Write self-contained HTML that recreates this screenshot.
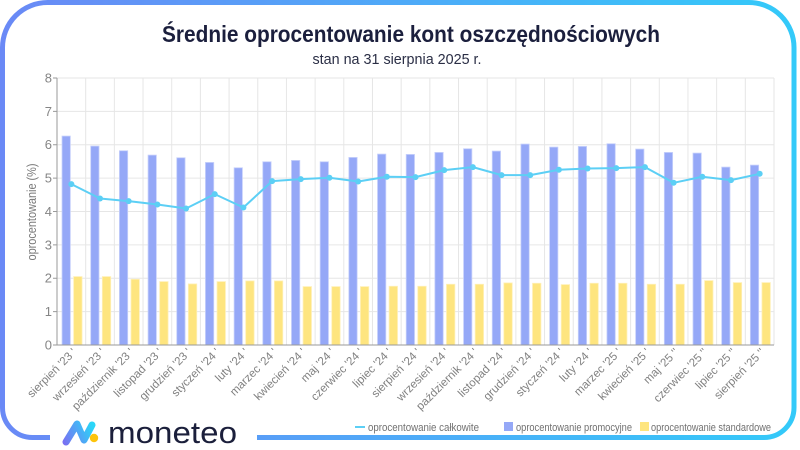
<!DOCTYPE html>
<html><head><meta charset="utf-8"><style>
html,body{margin:0;padding:0;background:#fff;width:800px;height:450px;overflow:hidden}
svg{display:block}
text{font-family:"Liberation Sans",sans-serif}
</style></head><body>
<svg width="800" height="450" viewBox="0 0 800 450" xmlns="http://www.w3.org/2000/svg">
<defs>
<linearGradient id="fr" gradientUnits="userSpaceOnUse" x1="0" y1="0" x2="800" y2="0">
<stop offset="0" stop-color="#6a89f6"/><stop offset="1" stop-color="#33caf9"/>
</linearGradient>
<linearGradient id="lg" gradientUnits="userSpaceOnUse" x1="62" y1="440" x2="92" y2="425">
<stop offset="0" stop-color="#7a6ff2"/><stop offset="1" stop-color="#2ad6f8"/>
</linearGradient>
</defs>
<rect width="800" height="450" fill="#fff"/>
<!-- frame -->
<path d="M47.5 2.5 H749 A45 45 0 0 1 794 47.5 V407.5 A30 30 0 0 1 764 437.5 H32.5 A30 30 0 0 1 2.5 407.5 V47.5 A45 45 0 0 1 47.5 2.5 Z" fill="none" stroke="url(#fr)" stroke-width="5"/>
<rect x="50" y="428" width="207" height="20" fill="#fff"/>

<!-- title -->
<text x="411" y="42" text-anchor="middle" font-size="23" font-weight="bold" fill="#1b1f3d" textLength="498" lengthAdjust="spacingAndGlyphs">Średnie oprocentowanie kont oszczędnościowych</text>
<text x="397" y="64" text-anchor="middle" font-size="15" fill="#2a2e45" textLength="169" lengthAdjust="spacingAndGlyphs">stan na 31 sierpnia 2025 r.</text>

<!-- grid -->
<g stroke="#e6e6e6" stroke-width="1" fill="none">
<path d="M57 311.625H774M57 278.25H774M57 244.875H774M57 211.5H774M57 178.125H774M57 144.75H774M57 111.375H774M57 78H774"/>
<path d="M85.68 78V345M114.36 78V345M143.04 78V345M171.72 78V345M200.4 78V345M229.08 78V345M257.76 78V345M286.44 78V345M315.12 78V345M343.8 78V345M372.48 78V345M401.16 78V345M429.84 78V345M458.52 78V345M487.2 78V345M515.88 78V345M544.56 78V345M573.24 78V345M601.92 78V345M630.6 78V345M659.28 78V345M687.96 78V345M716.64 78V345M745.32 78V345M774 78V345"/>
</g>

<!-- blue bars -->
<g fill="#95a8f7" stroke="#c6d0fb" stroke-width="0.8">
<rect x="62.04" y="136.07" width="8.3" height="208.93"/>
<rect x="90.72" y="146.08" width="8.3" height="198.92"/>
<rect x="119.40" y="150.76" width="8.3" height="194.24"/>
<rect x="148.08" y="155.10" width="8.3" height="189.90"/>
<rect x="176.76" y="157.77" width="8.3" height="187.23"/>
<rect x="205.44" y="162.44" width="8.3" height="182.56"/>
<rect x="234.12" y="167.78" width="8.3" height="177.22"/>
<rect x="262.80" y="161.77" width="8.3" height="183.23"/>
<rect x="291.48" y="160.44" width="8.3" height="184.56"/>
<rect x="320.16" y="161.77" width="8.3" height="183.23"/>
<rect x="348.84" y="157.43" width="8.3" height="187.57"/>
<rect x="377.52" y="154.09" width="8.3" height="190.91"/>
<rect x="406.20" y="154.43" width="8.3" height="190.57"/>
<rect x="434.88" y="152.43" width="8.3" height="192.57"/>
<rect x="463.56" y="148.75" width="8.3" height="196.25"/>
<rect x="492.24" y="151.09" width="8.3" height="193.91"/>
<rect x="520.92" y="144.08" width="8.3" height="200.92"/>
<rect x="549.60" y="147.09" width="8.3" height="197.91"/>
<rect x="578.28" y="146.42" width="8.3" height="198.58"/>
<rect x="606.96" y="143.75" width="8.3" height="201.25"/>
<rect x="635.64" y="149.09" width="8.3" height="195.91"/>
<rect x="664.32" y="152.43" width="8.3" height="192.57"/>
<rect x="693.00" y="153.09" width="8.3" height="191.91"/>
<rect x="721.68" y="167.11" width="8.3" height="177.89"/>
<rect x="750.36" y="165.11" width="8.3" height="179.89"/>
</g>

<!-- yellow bars -->
<g fill="#fee57f" stroke="#fff0b8" stroke-width="0.8">
<rect x="73.64" y="276.58" width="8.4" height="68.42"/>
<rect x="102.32" y="276.58" width="8.4" height="68.42"/>
<rect x="131.00" y="279.25" width="8.4" height="65.75"/>
<rect x="159.68" y="281.59" width="8.4" height="63.41"/>
<rect x="188.36" y="283.92" width="8.4" height="61.08"/>
<rect x="217.04" y="281.59" width="8.4" height="63.41"/>
<rect x="245.72" y="280.92" width="8.4" height="64.08"/>
<rect x="274.40" y="280.92" width="8.4" height="64.08"/>
<rect x="303.08" y="286.59" width="8.4" height="58.41"/>
<rect x="331.76" y="286.59" width="8.4" height="58.41"/>
<rect x="360.44" y="286.59" width="8.4" height="58.41"/>
<rect x="389.12" y="286.26" width="8.4" height="58.74"/>
<rect x="417.80" y="286.26" width="8.4" height="58.74"/>
<rect x="446.48" y="284.26" width="8.4" height="60.74"/>
<rect x="475.16" y="284.26" width="8.4" height="60.74"/>
<rect x="503.84" y="282.92" width="8.4" height="62.08"/>
<rect x="532.52" y="283.26" width="8.4" height="61.74"/>
<rect x="561.20" y="284.59" width="8.4" height="60.41"/>
<rect x="589.88" y="283.26" width="8.4" height="61.74"/>
<rect x="618.56" y="283.26" width="8.4" height="61.74"/>
<rect x="647.24" y="284.26" width="8.4" height="60.74"/>
<rect x="675.92" y="284.26" width="8.4" height="60.74"/>
<rect x="704.60" y="280.59" width="8.4" height="64.41"/>
<rect x="733.28" y="282.59" width="8.4" height="62.41"/>
<rect x="761.96" y="282.59" width="8.4" height="62.41"/>
</g>

<!-- axes -->
<g stroke="#9a9a9a" stroke-width="1" fill="none">
<path d="M57 78V345H774"/>
<path d="M53 78H57M53 111.375H57M53 144.75H57M53 178.125H57M53 211.5H57M53 244.875H57M53 278.25H57M53 311.625H57M53 345H57"/>
</g>
<g font-size="13" fill="#858585" text-anchor="end">
<text x="52" y="349.5">0</text>
<text x="52" y="316">1</text>
<text x="52" y="282.7">2</text>
<text x="52" y="249.3">3</text>
<text x="52" y="216">4</text>
<text x="52" y="182.6">5</text>
<text x="52" y="149.2">6</text>
<text x="52" y="115.9">7</text>
<text x="52" y="82.5">8</text>
</g>
<text transform="translate(36 212) rotate(-90)" text-anchor="middle" font-size="12.5" fill="#7a7a7a" textLength="97" lengthAdjust="spacingAndGlyphs">oprocentowanie (%)</text>

<!-- line -->
<polyline fill="none" stroke="#5ccff5" stroke-width="2" stroke-linejoin="round" points="71.34,184.13 100.02,198.48 128.70,201.15 157.38,204.49 186.06,208.50 214.74,194.14 243.42,207.49 272.10,181.13 300.78,179.13 329.46,177.79 358.14,181.46 386.82,176.79 415.50,177.12 444.18,170.11 472.86,167.11 501.54,175.12 530.22,175.12 558.90,169.78 587.58,168.45 616.26,168.11 644.94,167.11 673.62,182.80 702.30,176.79 730.98,180.13 759.66,173.79"/>
<g fill="#5ccff5">
<circle cx="71.34" cy="184.13" r="3"/><circle cx="100.02" cy="198.48" r="3"/><circle cx="128.70" cy="201.15" r="3"/><circle cx="157.38" cy="204.49" r="3"/><circle cx="186.06" cy="208.50" r="3"/><circle cx="214.74" cy="194.14" r="3"/><circle cx="243.42" cy="207.49" r="3"/><circle cx="272.10" cy="181.13" r="3"/><circle cx="300.78" cy="179.13" r="3"/><circle cx="329.46" cy="177.79" r="3"/><circle cx="358.14" cy="181.46" r="3"/><circle cx="386.82" cy="176.79" r="3"/><circle cx="415.50" cy="177.12" r="3"/><circle cx="444.18" cy="170.11" r="3"/><circle cx="472.86" cy="167.11" r="3"/><circle cx="501.54" cy="175.12" r="3"/><circle cx="530.22" cy="175.12" r="3"/><circle cx="558.90" cy="169.78" r="3"/><circle cx="587.58" cy="168.45" r="3"/><circle cx="616.26" cy="168.11" r="3"/><circle cx="644.94" cy="167.11" r="3"/><circle cx="673.62" cy="182.80" r="3"/><circle cx="702.30" cy="176.79" r="3"/><circle cx="730.98" cy="180.13" r="3"/><circle cx="759.66" cy="173.79" r="3"/>
</g>

<!-- x labels -->
<g font-size="11.5" fill="#808080" text-anchor="end">
<text transform="translate(77 353) rotate(-45)">sierpień '23 '</text>
<text transform="translate(105.7 353) rotate(-45)">wrzesień '23 '</text>
<text transform="translate(134.4 353) rotate(-45)">październik '23 '</text>
<text transform="translate(163.1 353) rotate(-45)">listopad '23 '</text>
<text transform="translate(191.8 353) rotate(-45)">grudzień '23 '</text>
<text transform="translate(220.4 353) rotate(-45)">styczeń '24 '</text>
<text transform="translate(249.1 353) rotate(-45)">luty '24 '</text>
<text transform="translate(277.8 353) rotate(-45)">marzec '24 '</text>
<text transform="translate(306.5 353) rotate(-45)">kwiecień '24 '</text>
<text transform="translate(335.2 353) rotate(-45)">maj '24 '</text>
<text transform="translate(363.8 353) rotate(-45)">czerwiec '24 '</text>
<text transform="translate(392.5 353) rotate(-45)">lipiec '24 '</text>
<text transform="translate(421.2 353) rotate(-45)">sierpień '24 '</text>
<text transform="translate(449.9 353) rotate(-45)">wrzesień '24 '</text>
<text transform="translate(478.6 353) rotate(-45)">październik '24 '</text>
<text transform="translate(507.2 353) rotate(-45)">listopad '24 '</text>
<text transform="translate(535.9 353) rotate(-45)">grudzień '24 '</text>
<text transform="translate(564.6 353) rotate(-45)">styczeń '24 '</text>
<text transform="translate(593.3 353) rotate(-45)">luty '24 '</text>
<text transform="translate(622 353) rotate(-45)">marzec '25 '</text>
<text transform="translate(650.6 353) rotate(-45)">kwiecień '25 '</text>
<text transform="translate(679.3 353) rotate(-45)">maj '25 ''</text>
<text transform="translate(708 353) rotate(-45)">czerwiec '25 ''</text>
<text transform="translate(736.7 353) rotate(-45)">lipiec '25 ''</text>
<text transform="translate(765.4 353) rotate(-45)">sierpień '25 ''</text>
</g>

<!-- legend -->
<line x1="355" y1="427" x2="365" y2="427" stroke="#5ccff5" stroke-width="2"/>
<text x="368" y="431" font-size="11" fill="#707070" textLength="111" lengthAdjust="spacingAndGlyphs">oprocentowanie całkowite</text>
<rect x="504" y="422" width="9" height="9" fill="#95a8f7"/>
<text x="516" y="431" font-size="11" fill="#707070" textLength="116" lengthAdjust="spacingAndGlyphs">oprocentowanie promocyjne</text>
<rect x="640" y="422" width="9" height="9" fill="#fee57f"/>
<text x="651" y="431" font-size="11" fill="#707070" textLength="120" lengthAdjust="spacingAndGlyphs">oprocentowanie standardowe</text>

<!-- logo -->
<path d="M66 442 L77 424 L84 440 L92 425" fill="none" stroke="url(#lg)" stroke-width="7" stroke-linejoin="round" stroke-linecap="round"/>
<circle cx="94" cy="438" r="4.2" fill="#fdc40b"/>
<text x="108" y="443" font-size="31" fill="#1b1f3b" textLength="129" lengthAdjust="spacingAndGlyphs">moneteo</text>
</svg>
</body></html>
